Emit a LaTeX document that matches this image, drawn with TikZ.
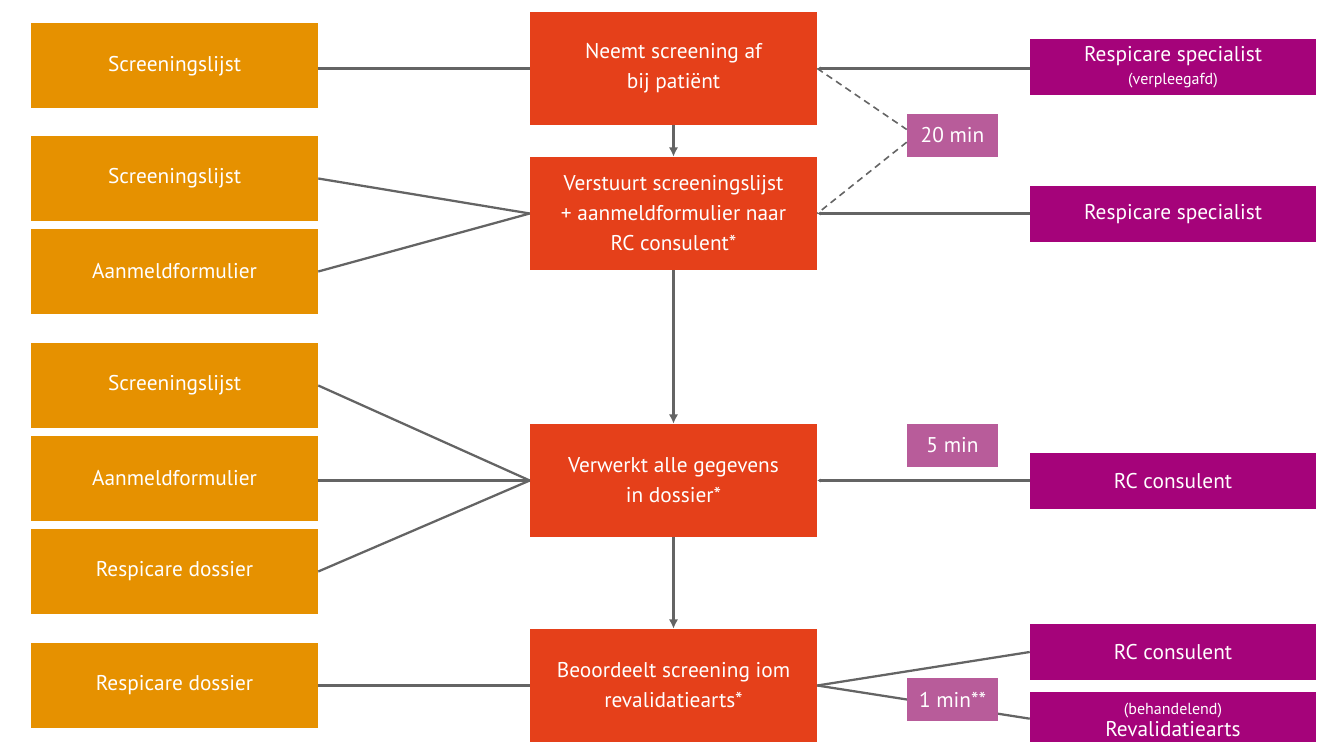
\documentclass[tikz,border=0pt]{standalone}
\usepackage{fontspec}
\setmainfont{PT Sans}
\usetikzlibrary{positioning,arrows.meta}
\definecolor{oranje}{RGB}{230,145,0}
\definecolor{rood}{RGB}{229,64,26}
\definecolor{paars}{RGB}{165,3,122}
\definecolor{roze}{RGB}{184,92,154}
\definecolor{lijn}{RGB}{100,100,100}
\tikzset{
  blok/.style={text=white, inner sep=0pt, align=center, font=\fontsize{16}{22.5}\selectfont},
  doc/.style={blok, fill=oranje, minimum width=215.25pt, minimum height=63.75pt},
  taak/.style={blok, fill=rood, minimum width=215.25pt, minimum height=84.75pt},
  rol/.style={blok, fill=paars, minimum width=214.5pt, minimum height=42pt},
  tijd/.style={blok, fill=roze, minimum width=68.25pt, minimum height=32.25pt},
  verb/.style={draw=lijn, line width=1.7pt},
  pijl/.style={verb, -{Latex[length=7pt,width=7pt]}},
  terug/.style={verb, -{Latex[length=2.5pt,width=3pt]}}
}
\newcommand{\klein}{\fontsize{12}{12}\selectfont}

\begin{document}
\begin{tikzpicture}[x=0.75pt,y=-0.75pt]
        \clip (0,0) rectangle (1322,742);
        % documenten links
        \node[doc] (scr1) at (174.5,66) {Screeningslijst};
        \node[doc] (scr2) at (174.5,178.5) {Screeningslijst};
        \node[doc] (aan2) at (174.5,271.5) {Aanmeldformulier};
        \node[doc] (scr3) at (174.5,385.5) {Screeningslijst};
        \node[doc] (aan3) at (174.5,478.5) {Aanmeldformulier};
        \node[doc] (dos3) at (174.5,571.5) {Respicare dossier};
        \node[doc] (dos4) at (174.5,685.5) {Respicare dossier};
        % taken midden
        \node[taak] (neemt) at (673.5,68.5) {Neemt screening af\\bij patiënt};
        \node[taak] (verstuurt) at (673.5,213.5) {Verstuurt screeningslijst\\+ aanmeldformulier naar\\RC consulent*};
        \node[taak] (verwerkt) at (673.5,480.5) {Verwerkt alle gegevens\\in dossier*};
        \node[taak] (beoordeelt) at (673.5,685.5) {Beoordeelt screening iom\\revalidatiearts*};
        % rollen rechts
        \node[rol] (spec1) at (1173,67) {Respicare specialist\\[-5pt]{\klein(verpleegafd)}};
        \node[rol] (spec2) at (1173,214) {Respicare specialist};
        \node[rol] (rc3) at (1173,481) {RC consulent};
        \node[rol] (rc4) at (1173,652) {RC consulent};
        \node[rol] (arts4) at (1173,720) {{\klein(behandelend)}\\[-6pt]Revalidatiearts};
        % tijden
        \node[tijd] (t20) at (952.5,135.5) {20 min};
        \node[tijd] (t5) at (952.5,445.5) {5 min};

        \draw[pijl] (neemt) -- (verstuurt);
        \draw[pijl] (verstuurt) -- (verwerkt);
        \draw[pijl] (verwerkt) -- (beoordeelt);

        \draw[verb] (scr1.east |- neemt.west) -- (neemt.west);
        \draw[verb] (scr2.east) -- (verstuurt.west);
        \draw[verb] (aan2.east) -- (verstuurt.west);
        \draw[verb] (scr3.east) -- (verwerkt.west);
        \draw[verb] (aan3.east |- verwerkt.west) -- (verwerkt.west);
        \draw[verb] (dos3.east) -- (verwerkt.west);
        \draw[verb] (dos4.east) -- (beoordeelt.west);

        \draw[terug] (spec1.west |- neemt.east) -- (neemt.east);
        \draw[terug] (spec2.west |- verstuurt.east) -- (verstuurt.east);
        \draw[terug] (rc3.west |- verwerkt.east) -- (verwerkt.east);
        \draw[verb, line width=1.2pt, dash pattern=on 5pt off 3.5pt] (neemt.east) -- ([yshift=4.5pt]t20.west);
        \draw[verb, line width=1.2pt, dash pattern=on 5pt off 3.5pt] ([yshift=-5pt]t20.west) -- (verstuurt.east);

        \draw[verb] (beoordeelt.east) -- (rc4.west);
        \draw[verb] (beoordeelt.east) -- ([yshift=1pt]arts4.west);
        \node[tijd] (t1) at (952.5,699.5) {1 min**};
\end{tikzpicture}
\end{document}
